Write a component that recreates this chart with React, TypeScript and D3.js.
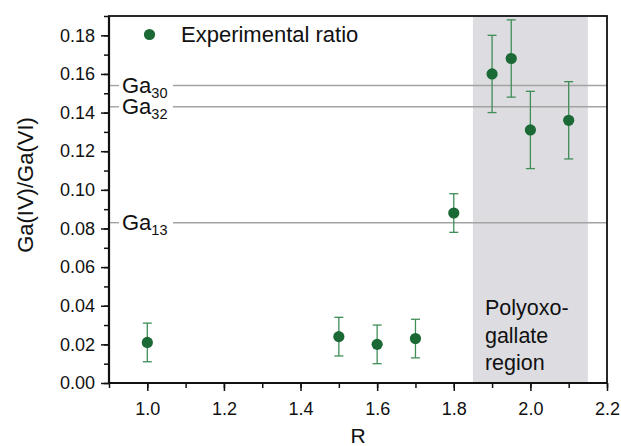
import { useEffect, useRef } from "react";
import * as d3 from "d3";

// measured ratio vs R
const rValues = [1.0, 1.5, 1.6, 1.7, 1.8, 1.9, 1.95, 2.0, 2.1];
const ratioValues = [0.021, 0.024, 0.02, 0.023, 0.088, 0.16, 0.168, 0.131, 0.136];
const ratioErrors = [0.01, 0.01, 0.01, 0.01, 0.01, 0.02, 0.02, 0.02, 0.02];

// reference clusters (horizontal lines)
const refSubscripts = ["30", "32", "13"];
const refValues = [0.154, 0.143, 0.083];

const regionRange = [1.85, 2.15];
const regionLines = ["Polyoxo-", "gallate", "region"];

const xMajorTicks = [1.0, 1.2, 1.4, 1.6, 1.8, 2.0, 2.2];
const yMajorTicks = [0, 0.02, 0.04, 0.06, 0.08, 0.1, 0.12, 0.14, 0.16, 0.18];

const W = 621;
const H = 446;
const margin = { top: 16, right: 14, bottom: 63, left: 109 };
const FONT = "'Liberation Sans', Arial, sans-serif";

const App = () => {
  const svgRef = useRef<SVGSVGElement>(null);

  useEffect(() => {
    if (!svgRef.current) return;
    const svg = d3.select(svgRef.current);
    svg.selectAll("*").remove();

    const x = d3.scaleLinear().domain([0.9, 2.2]).range([margin.left, W - margin.right]);
    const y = d3.scaleLinear().domain([0, 0.19]).range([H - margin.bottom, margin.top]);
    const [x0, x1] = x.range();
    const [y0, y1] = y.range();

    // shaded region
    svg
      .append("rect")
      .attr("x", x(regionRange[0]))
      .attr("y", y1)
      .attr("width", x(regionRange[1]) - x(regionRange[0]))
      .attr("height", y0 - y1)
      .attr("fill", "#dddde1");

    // reference lines, with a gap for the label
    const labelX = x0 + 13;
    const gapEnd = x0 + 64;
    const refs = svg.append("g");
    refValues.forEach((v, i) => {
      refs
        .append("line")
        .attr("x1", x0)
        .attr("x2", labelX - 3)
        .attr("y1", y(v))
        .attr("y2", y(v))
        .attr("stroke", "#a3a3a3")
        .attr("stroke-width", 1.4);
      refs
        .append("line")
        .attr("x1", gapEnd)
        .attr("x2", x1)
        .attr("y1", y(v))
        .attr("y2", y(v))
        .attr("stroke", "#a3a3a3")
        .attr("stroke-width", 1.4);
      const t = refs
        .append("text")
        .attr("x", labelX)
        .attr("y", y(v) + 7.5)
        .attr("font-family", FONT)
        .attr("font-size", 22)
        .attr("fill", "#111");
      t.append("tspan").text("Ga");
      t.append("tspan").attr("dy", 5).attr("font-size", 14.5).text(refSubscripts[i]);
    });

    // region label
    svg
      .append("text")
      .attr("font-family", FONT)
      .attr("font-size", 21.5)
      .attr("fill", "#111")
      .selectAll("tspan")
      .data(regionLines)
      .join("tspan")
      .attr("x", x(regionRange[0]) + 12)
      .attr("y", (_d, i) => 315 + i * 27.5)
      .text((d) => d);

    // error bars
    const errCol = "#3f8d57";
    const eb = svg.append("g").attr("stroke", errCol).attr("stroke-width", 1.3);
    rValues.forEach((r, i) => {
      const cx = x(r);
      const top = y(ratioValues[i] + ratioErrors[i]);
      const bot = y(ratioValues[i] - ratioErrors[i]);
      eb.append("line").attr("x1", cx).attr("x2", cx).attr("y1", top).attr("y2", bot);
      eb.append("line").attr("x1", cx - 4.5).attr("x2", cx + 4.5).attr("y1", top).attr("y2", top);
      eb.append("line").attr("x1", cx - 4.5).attr("x2", cx + 4.5).attr("y1", bot).attr("y2", bot);
    });

    // points
    svg
      .append("g")
      .selectAll("circle")
      .data(rValues)
      .join("circle")
      .attr("cx", (d) => x(d))
      .attr("cy", (_d, i) => y(ratioValues[i]))
      .attr("r", 5.6)
      .attr("fill", "#1b6a36");

    // frame
    svg
      .append("rect")
      .attr("x", x0)
      .attr("y", y1)
      .attr("width", x1 - x0)
      .attr("height", y0 - y1)
      .attr("fill", "none")
      .attr("stroke", "#111")
      .attr("stroke-width", 1.8);

    // x axis
    const xAxis = svg
      .append("g")
      .attr("transform", `translate(0,${y0})`)
      .call(
        d3
          .axisBottom(x)
          .tickValues(d3.range(9, 23).map((v) => v / 10))
          .tickSize(5)
          .tickFormat(() => "")
      );
    xAxis.select(".domain").remove();
    xAxis.selectAll("line").attr("stroke", "#111").attr("stroke-width", 1.5);
    const xMaj = svg
      .append("g")
      .attr("transform", `translate(0,${y0})`)
      .call(d3.axisBottom(x).tickValues(xMajorTicks).tickSize(8).tickPadding(11).tickFormat(d3.format(".1f")));
    xMaj.select(".domain").remove();
    xMaj.selectAll("line").attr("stroke", "#111").attr("stroke-width", 1.5);
    xMaj.selectAll("text").attr("font-family", FONT).attr("font-size", 18).attr("fill", "#111");

    // y axis
    const yMin = svg
      .append("g")
      .attr("transform", `translate(${x0},0)`)
      .call(
        d3
          .axisLeft(y)
          .tickValues(d3.range(0, 20).map((v) => v / 100))
          .tickSize(5)
          .tickFormat(() => "")
      );
    yMin.select(".domain").remove();
    yMin.selectAll("line").attr("stroke", "#111").attr("stroke-width", 1.5);
    const yMaj = svg
      .append("g")
      .attr("transform", `translate(${x0},0)`)
      .call(d3.axisLeft(y).tickValues(yMajorTicks).tickSize(8).tickPadding(6).tickFormat(d3.format(".2f")));
    yMaj.select(".domain").remove();
    yMaj.selectAll("line").attr("stroke", "#111").attr("stroke-width", 1.5);
    yMaj.selectAll("text").attr("font-family", FONT).attr("font-size", 18).attr("fill", "#111");

    // thicker left / bottom axis lines
    svg.append("line").attr("x1", x0).attr("x2", x0).attr("y1", y1).attr("y2", y0)
      .attr("stroke", "#111").attr("stroke-width", 2.2);
    svg.append("line").attr("x1", x0).attr("x2", x1).attr("y1", y0).attr("y2", y0)
      .attr("stroke", "#111").attr("stroke-width", 2.2);

    // legend
    svg.append("circle").attr("cx", 149.5).attr("cy", 34.5).attr("r", 5.6).attr("fill", "#1b6a36");
    svg
      .append("text")
      .attr("x", 181)
      .attr("y", 42)
      .attr("font-family", FONT)
      .attr("font-size", 22)
      .attr("fill", "#111")
      .text("Experimental ratio");

    // axis titles
    svg
      .append("text")
      .attr("transform", `translate(33,185) rotate(-90)`)
      .attr("text-anchor", "middle")
      .attr("font-family", FONT)
      .attr("font-size", 22)
      .attr("fill", "#111")
      .text("Ga(IV)/Ga(VI)");
    svg
      .append("text")
      .attr("x", (x0 + x1) / 2)
      .attr("y", 443)
      .attr("text-anchor", "middle")
      .attr("font-family", FONT)
      .attr("font-size", 21)
      .attr("fill", "#111")
      .text("R");
  }, []);

  return (
    <svg
      ref={svgRef}
      width={W}
      height={H}
      style={{ position: "absolute", left: 0, top: 0, background: "#fff" }}
    ></svg>
  );
};

export default App;
